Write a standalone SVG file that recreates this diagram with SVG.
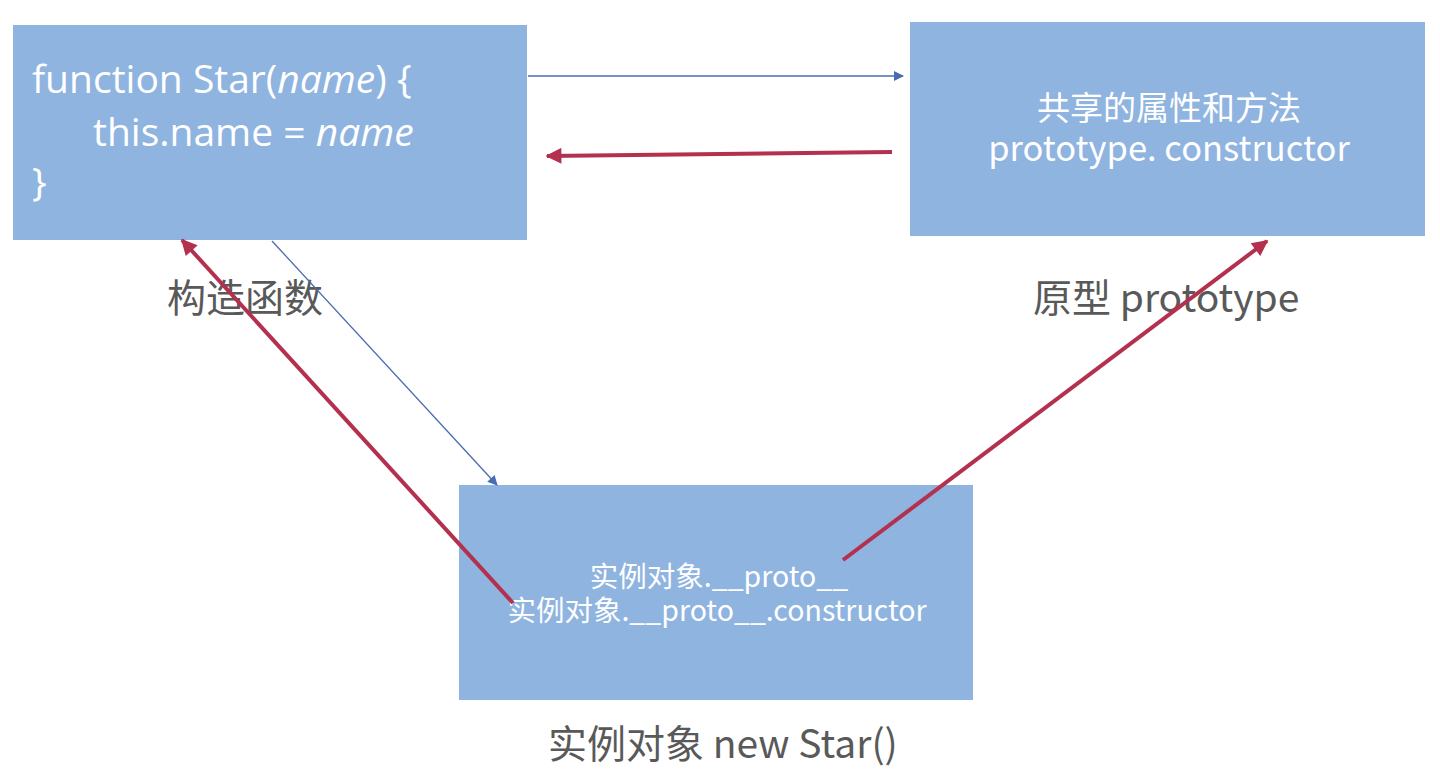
<svg xmlns="http://www.w3.org/2000/svg" width="1440" height="778" viewBox="0 0 1440 778">
<style>
.box{fill:#8fb4e0;}
.wt{fill:#ffffff;font-family:"Noto Sans CJK SC","Noto Sans",sans-serif;}
.code{fill:#ffffff;font-family:"Open Sans","Liberation Sans",sans-serif;font-size:39px;}
.lbl{fill:#595959;font-family:"Noto Sans CJK SC","Noto Sans",sans-serif;font-size:39px;}
.blue{stroke:#4a6cb0;stroke-width:1.3;fill:none;}
.red{stroke:#b3304f;stroke-width:4;fill:none;}
</style>
<defs>
<marker id="ab" viewBox="0 0 10 10" refX="9" refY="5" markerWidth="12" markerHeight="10" markerUnits="userSpaceOnUse" orient="auto"><path d="M0,0 L10,5 L0,10 Z" fill="#4a6cb0"/></marker>
<marker id="ar" viewBox="0 0 10 10" refX="9" refY="5" markerWidth="18" markerHeight="16" markerUnits="userSpaceOnUse" orient="auto"><path d="M0,0 L10,5 L0,10 Z" fill="#b3304f"/></marker>
</defs>
<rect width="1440" height="778" fill="#ffffff"/>
<g id="constructor">
<rect class="box" x="13" y="25" width="514" height="215"/>
<text class="code" x="32" y="93">function Star(<tspan font-style="italic">name</tspan>) {</text>
<text class="code" x="93" y="146">this.name = <tspan font-style="italic">name</tspan></text>
<text class="code" x="32" y="196">}</text>
<text class="lbl" x="167" y="312">构造函数</text>
</g>
<g id="prototype">
<rect class="box" x="910" y="22" width="515" height="214"/>
<text class="wt" text-anchor="middle"><tspan x="1169" y="120" font-size="33">共享的属性和方法</tspan><tspan x="1169" y="161" font-size="34.5">prototype. constructor</tspan></text>
<text class="lbl" x="1033" y="312">原型 prototype</text>
</g>
<g id="instance">
<rect class="box" x="459" y="485" width="514" height="215"/>
<text class="wt" font-size="28.5" text-anchor="middle"><tspan x="719" y="587">实例对象.__proto__</tspan><tspan x="717" y="621">实例对象.__proto__.constructor</tspan></text>
<text class="lbl" x="548" y="758">实例对象 new Star()</text>
</g>
<g id="connectors">
<line class="blue" x1="528" y1="76" x2="903" y2="76" marker-end="url(#ab)"/>
<line class="red" x1="892" y1="152" x2="547" y2="156" marker-end="url(#ar)"/>
<line class="blue" x1="272" y1="241" x2="497" y2="485" marker-end="url(#ab)"/>
<line class="red" x1="513" y1="603" x2="182" y2="240" marker-end="url(#ar)"/>
<line class="red" x1="843" y1="560" x2="1267" y2="241" marker-end="url(#ar)"/>
</g>
</svg>
